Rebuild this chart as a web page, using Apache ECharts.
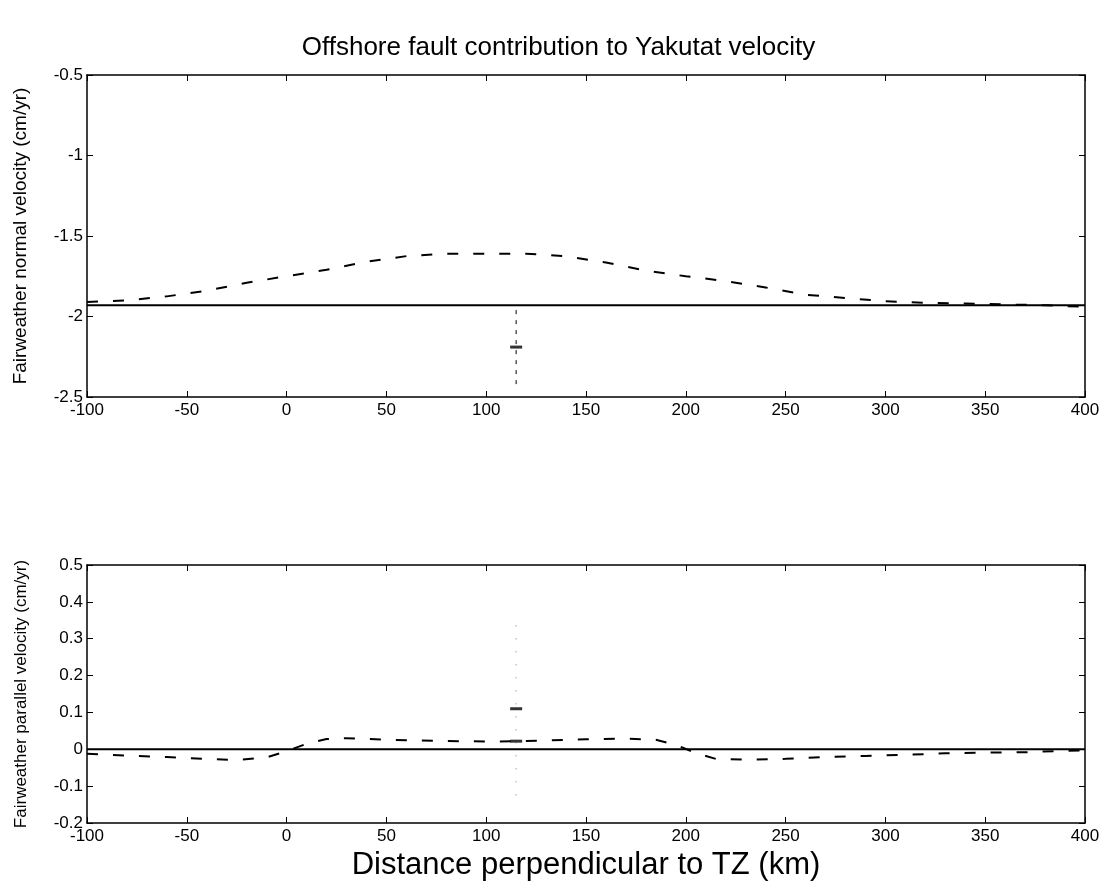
<!DOCTYPE html>
<html><head><meta charset="utf-8">
<script src="https://cdn.jsdelivr.net/npm/echarts@6/dist/echarts.min.js"></script>
<style>html,body{margin:0;padding:0;background:#fff}#c{width:1117px;height:889px}</style>
</head><body><div id="c"></div>
<script>
const titleText = "Offshore fault contribution to Yakutat velocity";
const xName = "Distance perpendicular to TZ (km)";
const yNameTop = "Fairweather normal velocity (cm/yr)";
const yNameBottom = "Fairweather parallel velocity (cm/yr)";

const topDashX = [-100,-80,-60,-40,-20,0,20,40,60,80,100,120,140,160,180,200,220,240,260,280,300,320,340,360,380,400];
const topDashY = [-1.91,-1.90,-1.875,-1.84,-1.79,-1.75,-1.71,-1.66,-1.625,-1.61,-1.61,-1.61,-1.625,-1.665,-1.715,-1.75,-1.78,-1.82,-1.865,-1.885,-1.905,-1.915,-1.92,-1.925,-1.93,-1.94];
const topSolidX = [-100, 400];
const topSolidY = [-1.93, -1.93];
const topErrX = 115, topErrLo = -2.42, topErrHi = -1.95, topErrMid = -2.19;

const botDashX = [-100,-80,-60,-40,-25,-10,0,10,20,30,50,75,100,115,130,150,170,185,195,205,215,230,250,270,290,310,330,350,370,385,400];
const botDashY = [-0.012,-0.017,-0.021,-0.026,-0.029,-0.022,-0.005,0.015,0.028,0.030,0.026,0.023,0.021,0.022,0.024,0.027,0.029,0.026,0.012,-0.010,-0.026,-0.028,-0.026,-0.021,-0.018,-0.015,-0.011,-0.009,-0.008,-0.005,-0.003];
const botSolidX = [-100, 400];
const botSolidY = [0, 0];
const botErrX = 115, botErrLo = -0.125, botErrHi = 0.35, botErrMid = 0.11;

const FONT = "Liberation Sans";
const zip = (a, b) => a.map((v, i) => [v, b[i]]);
const fmt = v => String(parseFloat(v.toFixed(2)));

function xAxes(gi) {
  return [
    {gridIndex: gi, type: 'value', min: -100, max: 400, interval: 50, position: 'bottom',
     name: gi === 1 ? xName : '', nameLocation: 'middle', nameGap: 27,
     nameTextStyle: {fontFamily: FONT, fontSize: 31, color: '#000'},
     axisLine: {onZero: false, lineStyle: {color: '#000', width: 1.5}},
     axisTick: {inside: true, length: 6, lineStyle: {color: '#000'}},
     axisLabel: {fontFamily: FONT, fontSize: 17, color: '#000', margin: 5},
     splitLine: {show: false}},
    {gridIndex: gi, type: 'value', min: -100, max: 400, interval: 50, position: 'top',
     axisLine: {onZero: false, lineStyle: {color: '#000', width: 1.5}},
     axisTick: {inside: true, length: 6, lineStyle: {color: '#000'}},
     axisLabel: {show: false}, splitLine: {show: false}}
  ];
}
function yAxes(gi, min, max, interval, name, nameSize) {
  return [
    {gridIndex: gi, type: 'value', min, max, interval, position: 'left',
     name, nameLocation: 'middle', nameGap: 57,
     nameTextStyle: {fontFamily: FONT, fontSize: nameSize, color: '#000'},
     axisLine: {onZero: false, lineStyle: {color: '#000', width: 1.5}},
     axisTick: {inside: true, length: 6, lineStyle: {color: '#000'}},
     axisLabel: {fontFamily: FONT, fontSize: 17, color: '#000', margin: 4, formatter: fmt},
     splitLine: {show: false}},
    {gridIndex: gi, type: 'value', min, max, interval, position: 'right',
     axisLine: {onZero: false, lineStyle: {color: '#000', width: 1.5}},
     axisTick: {inside: true, length: 6, lineStyle: {color: '#000'}},
     axisLabel: {show: false}, splitLine: {show: false}}
  ];
}

const chart = echarts.init(document.getElementById('c'), null, {renderer: 'canvas'});
const lineBase = {type: 'line', symbol: 'none', silent: true, animation: false};
chart.setOption({
  backgroundColor: '#fff',
  animation: false,
  title: {text: titleText, left: 'center', top: 30,
    textStyle: {fontFamily: FONT, fontSize: 26, fontWeight: 'normal', color: '#000'}},
  grid: [
    {left: 87, right: 32, top: 75, height: 322},
    {left: 87, right: 32, top: 565, height: 258}
  ],
  xAxis: [...xAxes(0), ...xAxes(1)],
  yAxis: [...yAxes(0, -2.5, -0.5, 0.5, yNameTop, 19), ...yAxes(1, -0.2, 0.5, 0.1, yNameBottom, 17)],
  series: [
    Object.assign({}, lineBase, {xAxisIndex: 0, yAxisIndex: 0, data: zip(topSolidX, topSolidY),
      lineStyle: {color: '#000', width: 2}}),
    Object.assign({}, lineBase, {xAxisIndex: 0, yAxisIndex: 0, data: zip(topDashX, topDashY),
      lineStyle: {color: '#000', width: 2, type: [11, 15]}}),
    Object.assign({}, lineBase, {xAxisIndex: 0, yAxisIndex: 0, data: [[topErrX, topErrLo], [topErrX, topErrHi]],
      lineStyle: {color: '#000', width: 1, type: [4, 6]}}),
    {type: 'scatter', xAxisIndex: 0, yAxisIndex: 0, data: [[topErrX, topErrMid]], symbol: 'rect', symbolSize: [12, 3],
      itemStyle: {color: '#000'}, silent: true, animation: false},
    Object.assign({}, lineBase, {xAxisIndex: 2, yAxisIndex: 2, data: zip(botSolidX, botSolidY),
      lineStyle: {color: '#000', width: 2}}),
    Object.assign({}, lineBase, {xAxisIndex: 2, yAxisIndex: 2, data: zip(botDashX, botDashY),
      lineStyle: {color: '#000', width: 2, type: [11, 15]}}),
    Object.assign({}, lineBase, {xAxisIndex: 2, yAxisIndex: 2, data: [[botErrX, botErrLo], [botErrX, botErrHi]],
      lineStyle: {color: '#777', width: 1, type: [1, 12]}}),
    {type: 'scatter', xAxisIndex: 2, yAxisIndex: 2, data: [[botErrX, botErrMid], [botErrX, 0.022]], symbol: 'rect', symbolSize: [12, 3],
      itemStyle: {color: '#000'}, silent: true, animation: false}
  ]
});
</script></body></html>
